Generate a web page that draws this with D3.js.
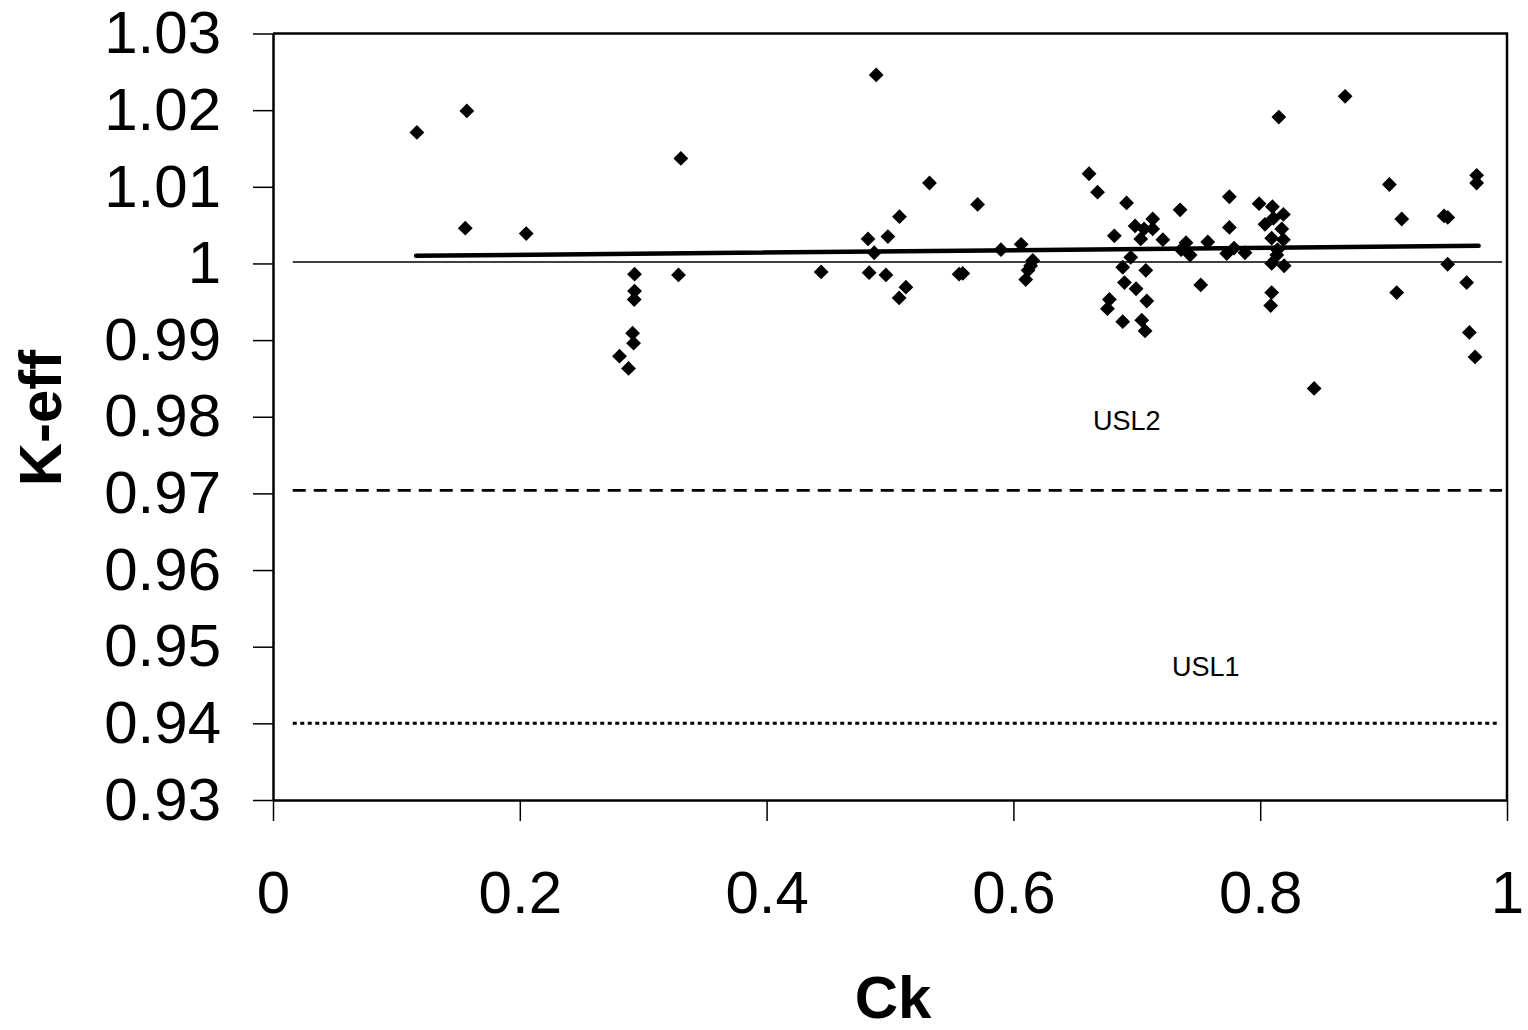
<!DOCTYPE html>
<html lang="en">
<head>
<meta charset="utf-8">
<title>K-eff vs Ck</title>
<script src="https://cdn.jsdelivr.net/npm/d3@7/dist/d3.min.js"></script>
<style>
  body { margin: 0; background: #fff; }
  svg { font-family: "Liberation Sans", Arial, sans-serif; }
  .tick text { font-size: 60px; fill: #000; }
  .axis path, .axis line { stroke: #000; }
  .axis line { stroke-width: 1.5px; }
  .axis path { stroke-width: 2.5px; }
  .title { font-size: 60px; font-weight: bold; fill: #000; }
  .usl { font-size: 27px; fill: #000; }
</style>
</head>
<body>
<svg id="chart" width="1528" height="1030"></svg>
<script>
// data
var ck = [
  0.1166, 0.1571, 0.1558, 0.2052, 0.2808, 0.2881, 0.2930, 0.2930, 0.2927, 0.2914,
  0.2922, 0.3305, 0.3286, 0.4442, 0.4822, 0.4831, 0.4888, 0.4872, 0.4983, 0.4967,
  0.5077, 0.5074, 0.5129, 0.5320, 0.5560, 0.5590, 0.5710, 0.5899, 0.6063, 0.6100,
  0.6119, 0.6140, 0.6157,
  0.6613, 0.6682, 0.6917, 0.6818, 0.6986, 0.7129, 0.7059, 0.7129, 0.7032, 0.7211,
  0.7351, 0.7399, 0.7359, 0.7432, 0.7575, 0.7750, 0.7750, 0.7788, 0.7729, 0.7877,
  0.7991, 0.8099, 0.8039, 0.8188, 0.8107, 0.8175, 0.8093, 0.8188, 0.8140, 0.8135,
  0.8093, 0.8194, 0.8093, 0.8085, 0.6951, 0.6886, 0.7073, 0.6900, 0.6994, 0.7081,
  0.6778, 0.6762, 0.6886, 0.7040, 0.7067, 0.7518, 0.8151, 0.8688, 0.8437,
  0.9047, 0.9147, 0.9490, 0.9520, 0.9754, 0.9754, 0.9519, 0.9673, 0.9106, 0.9695,
  0.9741
];
var keff = [
  1.0171, 1.0199, 1.0046, 1.0039, 0.9879, 0.9863, 0.9986, 0.9964, 0.9953, 0.9909,
  0.9896, 1.0137, 0.9985, 0.9989, 1.0032, 0.9988, 1.0246, 1.0014, 1.0035, 0.9985,
  1.0061, 0.9955, 0.9969, 1.0105, 0.9986, 0.9987, 1.0077, 1.0018, 1.0025, 0.9979,
  0.9991, 0.9997, 1.0004,
  1.0117, 1.0093, 1.0079, 1.0036, 1.0049, 1.0058, 1.0045, 1.0045, 1.0032, 1.0031,
  1.0070, 1.0027, 1.0018, 1.0011, 1.0028, 1.0087, 1.0047, 1.0020, 1.0013, 1.0014,
  1.0078, 1.0074, 1.0051, 1.0064, 1.0059, 1.0045, 1.0033, 1.0031, 1.0018, 1.0011,
  1.0000, 0.9997, 0.9962, 0.9945, 1.0008, 0.9995, 0.9991, 0.9975, 0.9967, 0.9951,
  0.9953, 0.9941, 0.9924, 0.9926, 0.9912, 0.9972, 1.0191, 1.0218, 0.9837,
  1.0103, 1.0058, 1.0062, 1.0060, 1.0115, 1.0105, 0.9999, 0.9975, 0.9962, 0.9910,
  0.9878
];

// trend line end points
var trendCk = [0.116, 0.977];
var trendKeff = [1.0010, 1.0023];

// horizontal reference lines
var refValues = [1.0002, 0.9704, 0.9400];
var refDash = ["none", "13,8", "4,3.5"];
var refWidth = [1.5, 2.6, 3];
var refExtent = [0.016, 0.996];

var uslNames = ["USL2", "USL1"];
var uslCk = [0.6645, 0.7285];
var uslKeff = [0.9783, 0.9462];

var xTicks = [0, 0.2, 0.4, 0.6, 0.8, 1];
var xTickLabels = ["0", "0.2", "0.4", "0.6", "0.8", "1"];
var yTicks = [0.93, 0.94, 0.95, 0.96, 0.97, 0.98, 0.99, 1, 1.01, 1.02, 1.03];
var yTickLabels = ["0.93", "0.94", "0.95", "0.96", "0.97", "0.98", "0.99", "1", "1.01", "1.02", "1.03"];

var svg = d3.select("#chart");
var plotLeft = 273, plotRight = 1507, plotTop = 33.5, plotBottom = 800;

var x = d3.scaleLinear().domain([0, 1]).range([plotLeft, plotRight]);
var y = d3.scaleLinear().domain([0.93, 1.03]).range([plotBottom, plotTop]);

// frame top and right
svg.append("path")
  .attr("d", "M" + plotLeft + "," + plotTop + "H" + plotRight + "V" + plotBottom)
  .attr("fill", "none")
  .attr("stroke", "#000")
  .attr("stroke-width", 2.5);

svg.append("g")
  .attr("class", "axis")
  .attr("transform", "translate(" + plotLeft + ",0)")
  .call(d3.axisLeft(y).tickValues(yTicks).tickSize(20).tickSizeOuter(0).tickPadding(32)
    .tickFormat(function(d, i) { return yTickLabels[i]; }));

svg.append("g")
  .attr("class", "axis")
  .attr("transform", "translate(0," + plotBottom + ")")
  .call(d3.axisBottom(x).tickValues(xTicks).tickSize(21).tickSizeOuter(0).tickPadding(49)
    .tickFormat(function(d, i) { return xTickLabels[i]; }));

svg.selectAll(".axis").attr("font-family", null).attr("font-size", null);

// reference lines
svg.selectAll(".ref")
  .data(refValues)
  .enter()
  .append("line")
  .attr("class", "ref")
  .attr("x1", x(refExtent[0]))
  .attr("x2", function(d, i) { return i == 2 ? x(refExtent[1]) - 5 : x(refExtent[1]); })
  .attr("y1", function(d) { return y(d); })
  .attr("y2", function(d) { return y(d); })
  .attr("stroke", "#000")
  .attr("stroke-width", function(d, i) { return refWidth[i]; })
  .attr("stroke-dasharray", function(d, i) { return refDash[i]; });

// trend line
svg.append("line")
  .attr("x1", x(trendCk[0]))
  .attr("x2", x(trendCk[1]))
  .attr("y1", y(trendKeff[0]))
  .attr("y2", y(trendKeff[1]))
  .attr("stroke", "#000")
  .attr("stroke-width", 4.5)
  .attr("stroke-linecap", "round");

// points
var diamond = d3.symbol().type(d3.symbolDiamond2).size(140);
svg.selectAll(".pt")
  .data(ck)
  .enter()
  .append("path")
  .attr("class", "pt")
  .attr("d", diamond)
  .attr("transform", function(d, i) { return "translate(" + x(d) + "," + y(keff[i]) + ")"; })
  .attr("fill", "#000");

// USL labels
svg.selectAll(".usl")
  .data(uslNames)
  .enter()
  .append("text")
  .attr("class", "usl")
  .attr("x", function(d, i) { return x(uslCk[i]); })
  .attr("y", function(d, i) { return y(uslKeff[i]); })
  .text(function(d) { return d; });

// axis titles
svg.append("text")
  .attr("class", "title")
  .attr("x", 893)
  .attr("y", 1018)
  .attr("text-anchor", "middle")
  .text("Ck");

svg.append("text")
  .attr("class", "title")
  .attr("transform", "translate(61,418) rotate(-90)")
  .attr("text-anchor", "middle")
  .text("K-eff");
</script>
</body>
</html>
